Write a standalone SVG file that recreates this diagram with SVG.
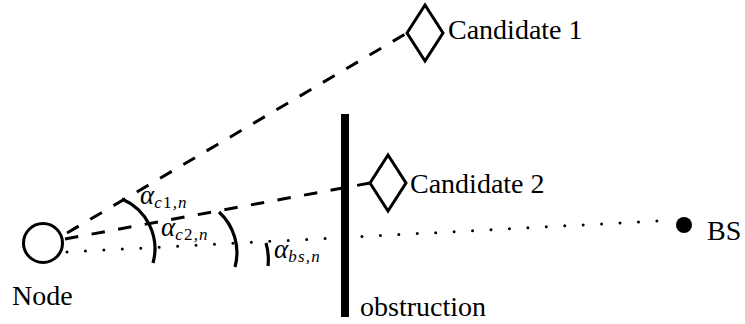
<svg xmlns="http://www.w3.org/2000/svg" width="745" height="324" viewBox="0 0 745 324">
<style>
.lbl{font-family:'Liberation Serif','DejaVu Serif',serif;font-size:28px;fill:#000}
.al{font-family:'Liberation Serif','DejaVu Serif',serif;font-style:italic;font-size:27px;fill:#000}
.sub{font-size:17px;letter-spacing:1.2px}
.up{font-style:normal}
.dash{fill:none;stroke:#000;stroke-width:3;stroke-dasharray:13.5 13.5}
.dot{fill:none;stroke:#000;stroke-width:3;stroke-linecap:round;stroke-dasharray:0 18.46}
.arc{fill:none;stroke:#000;stroke-width:3.2}
.shape{fill:#fff;stroke:#000;stroke-width:3}
</style>
<rect width="745" height="324" fill="#fff"/>
<g id="connectors">
<line class="dash" x1="67" y1="233" x2="407" y2="33"/>
<line class="dash" x1="65" y1="239" x2="370" y2="183"/>
<line class="dot" x1="67" y1="252" x2="657" y2="221"/>
</g>
<g id="angles">
<path class="arc" d="M122,199 A54 54 0 0 1 153,263"/>
<path class="arc" d="M219,212 A55 55 0 0 1 235,267"/>
<path class="arc" d="M266,243 A60 60 0 0 1 268,266"/>
<text class="al" x="140" y="204">α<tspan class="sub" dy="4">c<tspan class="up">1</tspan>,n</tspan></text>
<text class="al" x="161" y="236">α<tspan class="sub" dy="4">c<tspan class="up">2</tspan>,n</tspan></text>
<text class="al" x="274" y="258">α<tspan class="sub" dy="4">bs,n</tspan></text>
</g>
<g id="node">
<circle class="shape" cx="43" cy="243" r="19.5"/>
<text class="lbl" x="12" y="305">Node</text>
</g>
<g id="obstruction">
<rect x="341" y="114" width="8" height="203" fill="#000"/>
<text class="lbl" x="360" y="316">obstruction</text>
</g>
<g id="candidate1">
<polygon class="shape" points="407,33 425,5 443,33 425,61"/>
<text class="lbl" x="448" y="39">Candidate 1</text>
</g>
<g id="candidate2">
<polygon class="shape" points="370,183 388,155 406,183 388,211"/>
<text class="lbl" x="410" y="193">Candidate 2</text>
</g>
<g id="bs">
<circle cx="684" cy="225" r="8" fill="#000"/>
<text class="lbl" x="707" y="240">BS</text>
</g>
</svg>
